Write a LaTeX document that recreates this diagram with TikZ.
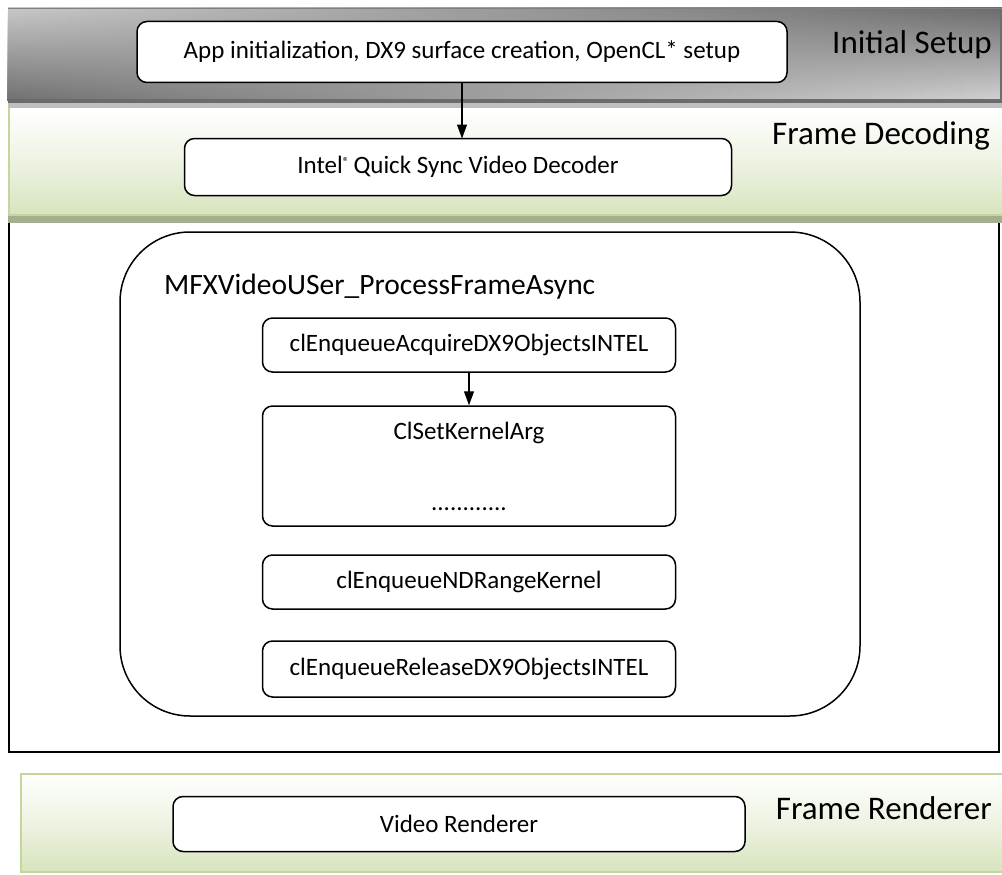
\documentclass[tikz,border=0pt]{standalone}
\usepackage{fontspec}
\setmainfont{Carlito}
\usetikzlibrary{arrows.meta,fadings}
\definecolor{bandgreen}{HTML}{D7E4BD}
\definecolor{bandborder}{HTML}{C3D69B}
\definecolor{shadowgreen}{HTML}{A5AE8E}
\definecolor{gTL}{HTML}{C8C8C8}
\definecolor{gTR}{HTML}{6C6C6C}
\definecolor{gBL}{HTML}{707070}
\definecolor{gBR}{HTML}{D2D2D2}
\tikzfading[name=fadetop, top color=transparent!100, bottom color=transparent!0]
\tikzset{
  box/.style={draw=black, line width=1.5pt, rounded corners=10pt, fill=white,
    font=\fontsize{25}{30}\selectfont, align=center, inner sep=0pt},
  bandlabel/.style={font=\fontsize{33}{38}\selectfont, anchor=east, inner sep=0pt},
  arr/.style={-{Triangle[length=14pt,width=10pt]}, line width=1.2pt},
  greenband/.style={top color=white, bottom color=bandgreen, middle color=bandgreen!45!white}
}
\begin{document}
\begin{tikzpicture}[x=1pt,y=-1pt]
\useasboundingbox (0,0) rectangle (1002,875);
% Initial setup band
\shade[left color=gTL, right color=gTR] (8,8) rectangle (1002,101);
\shade[left color=gBL, right color=gBR, path fading=fadetop] (8,8) rectangle (1002,101);
\draw[gray, line width=1pt] (8,8.5) -- (1002,8.5);
\fill[black!58] (8,99) rectangle (1002,103);
\fill[black!25] (8,103) rectangle (1002,108);
% Frame decoding band
\shade[greenband] (8,108) rectangle (1002,216);
\draw[bandborder, line width=2pt] (9,108) -- (9,216);
\draw[bandborder, line width=1.5pt] (8,215) -- (1002,215);
% big box
\draw[black, line width=1.5pt] (9,222) rectangle (999,752);
\fill[shadowgreen] (8,216) rectangle (1002,223);
% frame renderer band
\shade[greenband, draw=bandborder, line width=2pt] (21,774) rectangle (1003,872);

% nodes
\node[box, minimum width=650pt, minimum height=61pt] (init) at (462,52)
  {App initialization, DX9 surface creation, OpenCL* setup};
\node[box, minimum width=547pt, minimum height=57pt] (dec) at (458,167)
  {Intel{\fontsize{13}{13}\selectfont\raisebox{7pt}{®}}\,Quick Sync Video Decoder};
\node[draw=black, line width=1.5pt, rounded corners=70pt, minimum width=740pt,
  minimum height=484pt] (proc) at (490,474) {};
\node[anchor=west, inner sep=0pt, font=\fontsize{29.5}{34}\selectfont] (title) at (164,287)
  {MFXVideoUSer\_ProcessFrameAsync};
\node[box, minimum width=413pt, minimum height=54pt] (acq) at (469,345)
  {clEnqueueAcquireDX9ObjectsINTEL};
\node[box, minimum width=413pt, minimum height=120pt] (setk) at (469,466)
  {ClSetKernelArg\\[41pt]............};
\node[box, minimum width=413pt, minimum height=54pt] (ndr) at (469,582)
  {clEnqueueNDRangeKernel};
\node[box, minimum width=413pt, minimum height=56pt] (rel) at (469,669)
  {clEnqueueReleaseDX9ObjectsINTEL};
\node[box, minimum width=572pt, minimum height=55pt] (vr) at (459,824)
  {Video Renderer};

\node[bandlabel] (lbl1) at (992,45) {Initial Setup};
\node[bandlabel] (lbl2) at (990,136) {Frame Decoding};
\node[bandlabel] (lbl3) at (992,808) {Frame Renderer};

\draw[arr] (init.south -| 462,0) -- (462,138.5);
\draw[arr] (acq.south) -- (setk.north);
\end{tikzpicture}
\end{document}
